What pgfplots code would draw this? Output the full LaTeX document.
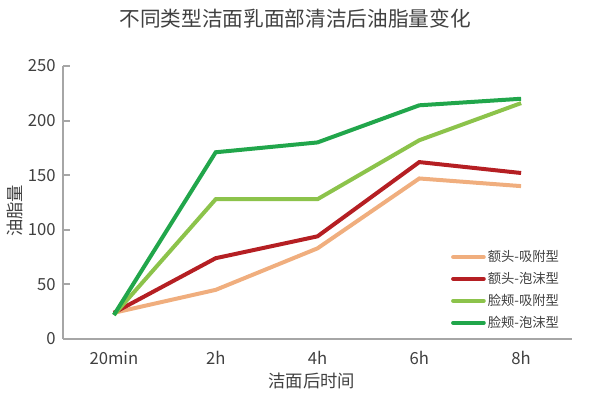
\documentclass[border=0pt]{standalone}
\usepackage{pgfplots}
\pgfplotsset{compat=1.18}
\usepackage{fontspec}
\setmainfont{Noto Sans CJK SC}
\definecolor{cOrange}{HTML}{F0AE7E}
\definecolor{cRed}{HTML}{B51F23}
\definecolor{cLgreen}{HTML}{8CC34B}
\definecolor{cDgreen}{HTML}{21A64B}
\definecolor{axgray}{HTML}{A6A6A6}
\definecolor{txt}{HTML}{404040}
\begin{document}
\begin{tikzpicture}
\useasboundingbox (-47.25pt,-42pt) rectangle (395.25pt,254.25pt);
\begin{axis}[
  at={(0,0)}, anchor=south west,
  scale only axis, width=381.75pt, height=204.75pt,
  xmin=-0.5, xmax=4.5, ymin=0, ymax=250,
  axis lines=left, axis line style={-, axgray, line width=1.5pt},
  xtick={0,1,2,3,4},
  xticklabels={20min,2h,4h,6h,8h},
  ytick={0,50,100,150,200,250},
  tick align=inside,
  major tick length=5.5pt,
  x tick style={draw=none},
  y tick style={axgray, line width=1.5pt},
  extra x ticks={0.5,1.5,2.5,3.5,4.5},
  extra x tick labels={},
  extra x tick style={tick style={axgray, line width=1.5pt, draw=axgray}, major tick length=4pt},
  ticklabel style={font=\fontsize{12.5pt}{14pt}\selectfont, text=txt},
  xticklabel style={yshift=-6pt},
  yticklabel style={xshift=-2pt},
  /pgf/number format/assume math mode=true,
  clip=false,
  legend style={at={(0.762,0.345)}, anchor=north west, draw=none, fill=none,
    font=\fontsize{10pt}{11pt}\selectfont, text=txt, row sep=2.5pt,
    legend cell align=left, inner xsep=0pt,
    nodes={inner xsep=1.5pt}},
  legend image code/.code={\draw[#1, line width=3pt, line cap=round] (0pt,0pt) -- (23pt,0pt);},
]
\addplot[cOrange, line width=3pt] coordinates {(0,24) (1,45) (2,83) (3,147) (4,140)};
\addlegendentry{额头-吸附型}
\addplot[cRed, line width=3pt] coordinates {(0,24) (1,74) (2,94) (3,162) (4,152)};
\addlegendentry{额头-泡沫型}
\addplot[cLgreen, line width=3pt] coordinates {(0,22) (1,128) (2,128) (3,182) (4,216)};
\addlegendentry{脸颊-吸附型}
\addplot[cDgreen, line width=3pt] coordinates {(0,22) (1,171) (2,180) (3,214) (4,220)};
\addlegendentry{脸颊-泡沫型}
\node[text=txt, font=\fontsize{15.5pt}{18pt}\selectfont] at (rel axis cs:0.456,1.172) {不同类型洁面乳面部清洁后油脂量变化};
\node[text=txt, font=\fontsize{13pt}{15pt}\selectfont] at (rel axis cs:0.489,-0.154) {洁面后时间};
\node[text=txt, font=\fontsize{13pt}{15pt}\selectfont, rotate=90] at (rel axis cs:-0.094,0.47) {油脂量};
\end{axis}
\end{tikzpicture}
\end{document}
